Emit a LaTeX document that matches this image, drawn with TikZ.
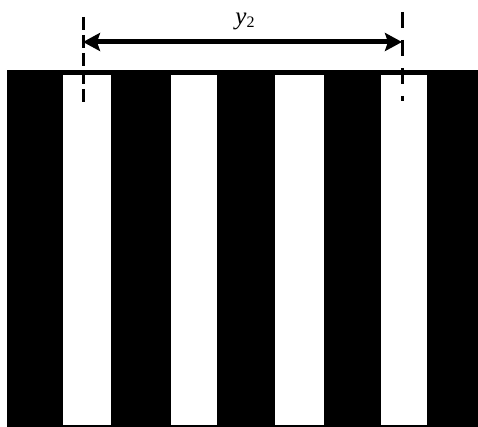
\documentclass[tikz,border=0pt]{standalone}
\usepackage{fontspec}
\setmainfont{Liberation Serif}
\usetikzlibrary{arrows.meta}

\begin{document}
\begin{tikzpicture}[x=1pt,y=-1pt,>={Stealth[length=17pt,width=18pt,inset=3pt]},
  marker/.style={line width=3pt,black}]
  \useasboundingbox (0,0) rectangle (478,427);
  % grating
  \fill[black] (7,70) rectangle (478,427);
  \foreach \xa/\xb in {63/111,171/217,275/324,381/427}
    \fill[white] (\xa,75) rectangle (\xb,425);
  % period markers
  \draw[marker,dash pattern=on 13pt off 5pt] (83,17) -- (83,106);
  \draw[marker,dash pattern=on 16pt off 12pt] (402,12) -- (402,101);
  \coordinate (leftmark) at (83,42);
  \coordinate (rightmark) at (402,42);
  \draw[line width=5pt,<->] (leftmark) -- (rightmark);
  \node[inner sep=0pt] (ylabel) at (245,21)
    {\fontsize{25}{27}\selectfont\textit{y}\raisebox{-3pt}{\fontsize{16}{18}\selectfont 2}};
\end{tikzpicture}
\end{document}
